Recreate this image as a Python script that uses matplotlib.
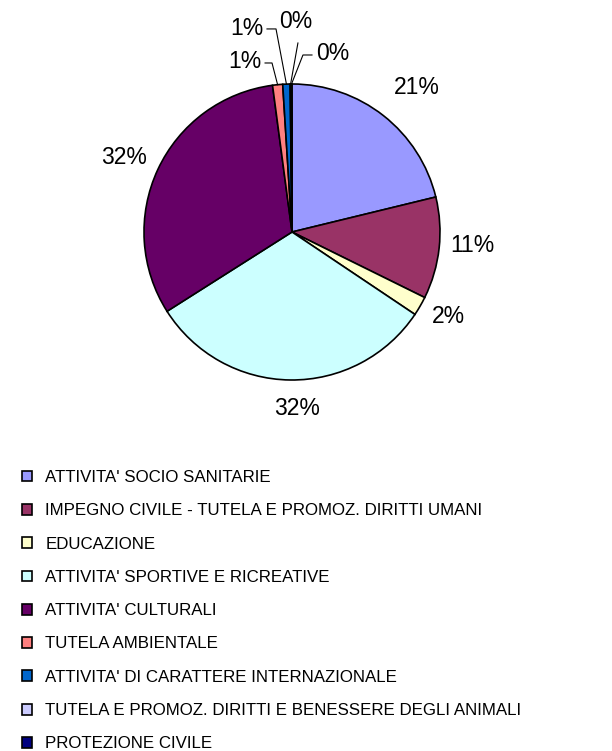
import matplotlib
matplotlib.use('Agg')
import matplotlib.pyplot as plt
import numpy as np

plt.rcParams['font.family'] = ['Liberation Sans', 'DejaVu Sans']

# Data (percent shares)
categories = [
    "ATTIVITA' SOCIO SANITARIE",
    "IMPEGNO CIVILE - TUTELA E PROMOZ. DIRITTI UMANI",
    "EDUCAZIONE",
    "ATTIVITA' SPORTIVE E RICREATIVE",
    "ATTIVITA' CULTURALI",
    "TUTELA AMBIENTALE",
    "ATTIVITA' DI CARATTERE INTERNAZIONALE",
    "TUTELA E PROMOZ. DIRITTI E BENESSERE DEGLI ANIMALI",
    "PROTEZIONE CIVILE",
]
shares = [21.2, 11.1, 2.1, 31.6, 31.9, 1.1, 0.8, 0.1, 0.1]
colors = ['#9999FF', '#993366', '#FFFFCC', '#CCFFFF', '#660066',
          '#FF8080', '#0066CC', '#CCCCFF', '#000080']

# label centres, in pie radii from the centre
label_pos = [(0.845, 0.973), (1.216, -0.088), (1.054, -0.574), (0.034, -1.19),
             (-1.135, 0.50), (-0.318, 1.149), (-0.304, 1.378), (0.027, 1.422),
             (0.277, 1.209)]
# leader lines: (start x, elbow x, y) or None
leaders = [None, None, None, None, None,
           (-0.182, -0.135, 1.142), (-0.169, -0.108, 1.372),
           (0.04, 0.04, 1.277), (0.135, 0.074, 1.196)]

fig = plt.figure(figsize=(6.12, 7.51), dpi=100)
cx, cy, r = 292, 232, 148
ax = fig.add_axes([(cx - r) / 612, 1 - (cy + r) / 751, 2 * r / 612, 2 * r / 751])

wedges, _ = ax.pie(shares, colors=colors, startangle=90, counterclock=False,
                   wedgeprops=dict(edgecolor='black', linewidth=1.2))
ax.set_xlim(-1, 1)
ax.set_ylim(-1, 1)
ax.set_aspect('equal')

total = sum(shares)
for w, v, (lx, ly), lead in zip(wedges, shares, label_pos, leaders):
    pct = f"{v / total * 100:.0f}%"
    ax.text(lx, ly, pct, ha='center', va='center', fontsize=16.5, clip_on=False)
    if lead is not None:
        ang = np.deg2rad((w.theta1 + w.theta2) / 2)
        px, py = np.cos(ang), np.sin(ang)
        sx, ex, y = lead
        ax.plot([sx, ex, px], [y, y, py], color='black', linewidth=0.8,
                clip_on=False)

leg = fig.legend(wedges, categories, loc='upper left',
                 bbox_to_anchor=(22 / 612, 1 - 470 / 751),
                 frameon=False, handlelength=0.6, handleheight=0.6,
                 handletextpad=0.78, labelspacing=1.08, borderaxespad=0,
                 borderpad=0, fontsize=12.2)

fig.savefig('out.png', dpi=100)
